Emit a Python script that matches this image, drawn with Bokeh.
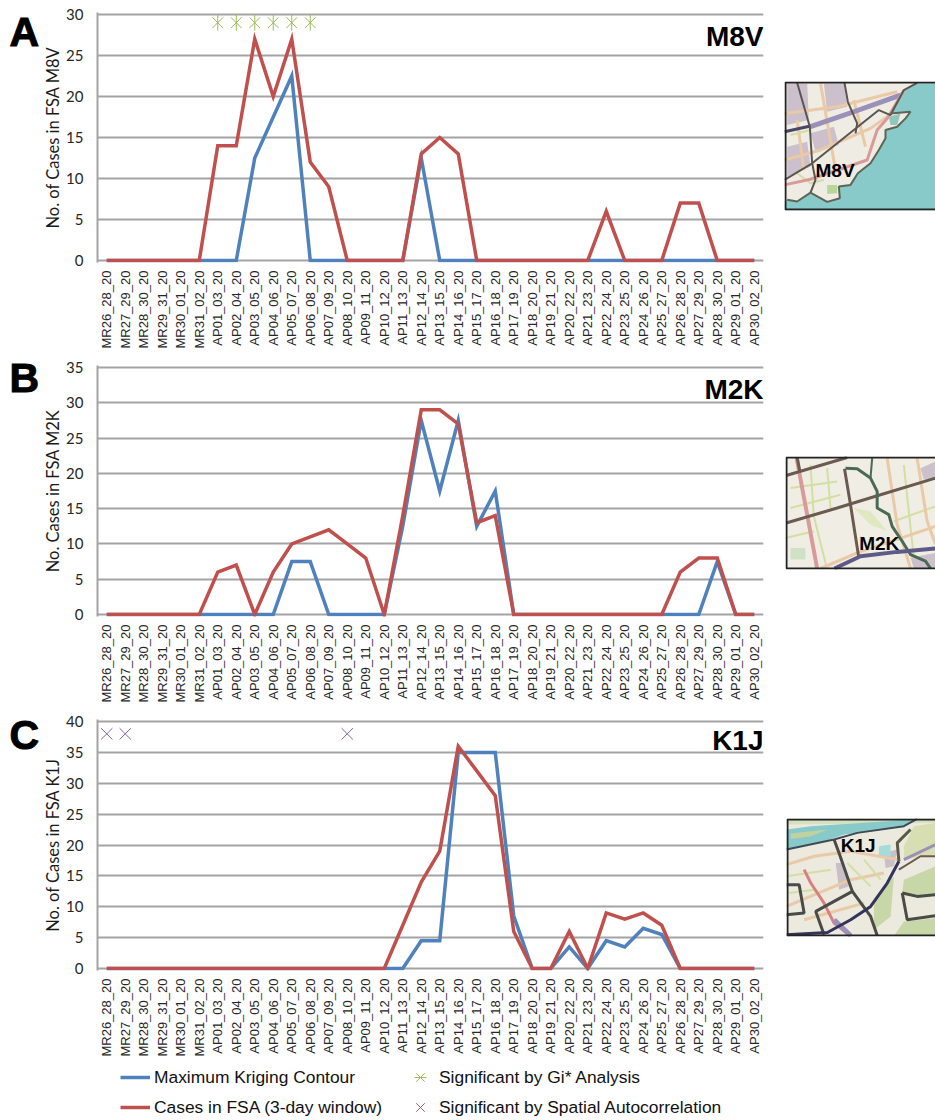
from bokeh.plotting import figure
from bokeh.layouts import column, row
from bokeh.models import (Range1d, FactorRange, Label, FixedTicker, Legend, LegendItem)
from bokeh.core.properties import value
from bokeh.embed import file_html
from bokeh.resources import INLINE
import math

windows = ["MR26_28_20","MR27_29_20","MR28_30_20","MR29_31_20","MR30_01_20","MR31_02_20",
 "AP01_03_20","AP02_04_20","AP03_05_20","AP04_06_20","AP05_07_20","AP06_08_20","AP07_09_20",
 "AP08_10_20","AP09_11_20","AP10_12_20","AP11_13_20","AP12_14_20","AP13_15_20","AP14_16_20",
 "AP15_17_20","AP16_18_20","AP17_19_20","AP18_20_20","AP19_21_20","AP20_22_20","AP21_23_20",
 "AP22_24_20","AP23_25_20","AP24_26_20","AP25_27_20","AP26_28_20","AP27_29_20","AP28_30_20",
 "AP29_01_20","AP30_02_20"]

m8v_cases   = [0,0,0,0,0,0,14,14,27,20,27,12,9,0,0,0,0,13,15,13,0,0,0,0,0,0,0,6,0,0,0,7,7,0,0,0]
m8v_kriging = [0,0,0,0,0,0,0,0,12.5,17.5,22.5,0,0,0,0,0,0,12.5,0,0,0,0,0,0,0,0,0,0,0,0,0,0,0,0,0,0]
m2k_cases   = [0,0,0,0,0,0,6,7,0,6,10,11,12,10,8,0,14,29,29,27,13,14,0,0,0,0,0,0,0,0,0,6,8,8,0,0]
m2k_kriging = [0,0,0,0,0,0,0,0,0,0,7.5,7.5,0,0,0,0,12.5,27.5,17.5,27.5,12.5,17.5,0,0,0,0,0,0,0,0,0,0,0,7.5,0,0]
k1j_cases   = [0,0,0,0,0,0,0,0,0,0,0,0,0,0,0,0,7,14,19,36,32,28,6,0,0,6,0,9,8,9,7,0,0,0,0,0]
k1j_kriging = [0,0,0,0,0,0,0,0,0,0,0,0,0,0,0,0,0,4.5,4.5,35,35,35,8.5,0,0,3.5,0,4.5,3.5,6.5,5.5,0,0,0,0,0]

m8v_gi_x = ["AP01_03_20","AP02_04_20","AP03_05_20","AP04_06_20","AP05_07_20","AP06_08_20"]
m8v_gi_y = [29,29,29,29,29,29]
k1j_sa_x = ["MR26_28_20","MR27_29_20","AP08_10_20"]
k1j_sa_y = [38,38,38]

BLUE, RED, GRID, GREEN, PURPLE = "#4f81bd", "#c0504d", "#a3a3a3", "#9bbb59", "#8064a2"
PAD = 2
LETTER_W = 40
LINE_W = 3.5

def chart(code, code_y, ylabel, ymax, cases, kriging, height, bottom):
    plot_h = 246
    unit = ymax / plot_h
    p = figure(width=784 - LETTER_W, height=height, x_range=FactorRange(factors=windows),
               y_range=Range1d(-PAD * unit, ymax + PAD * unit),
               output_backend="svg", toolbar_location=None, frame_align=False,
               min_border_left=97 - LETTER_W, min_border_right=21, min_border_top=12, min_border_bottom=bottom)
    p.outline_line_color = None
    p.background_fill_color = None
    p.border_fill_color = None
    p.xgrid.grid_line_color = None
    p.ygrid.grid_line_color = GRID
    p.ygrid.grid_line_width = 2
    p.yaxis.ticker = FixedTicker(ticks=list(range(0, ymax + 1, 5)))
    p.yaxis.axis_label = ylabel
    p.yaxis.axis_label_text_font = "Lato"
    p.yaxis.axis_label_text_font_style = "normal"
    p.yaxis.axis_label_text_font_size = "16.5px"
    p.yaxis.axis_label_text_color = "#1a1a1a"
    p.yaxis.axis_label_standoff = 0
    p.yaxis.major_label_text_font = "Lato"
    p.yaxis.major_label_text_font_size = "15px"
    p.yaxis.major_label_text_color = "#262626"
    p.yaxis.major_label_standoff = 14
    p.yaxis.major_tick_line_color = None
    p.yaxis.major_tick_out = 0
    p.yaxis.major_tick_in = 0
    p.yaxis.minor_tick_line_color = None
    p.yaxis.axis_line_color = GRID
    p.yaxis.axis_line_width = 2
    p.xaxis.axis_line_color = None
    p.xaxis.major_tick_line_color = None
    p.xaxis.major_tick_out = 0
    p.xaxis.major_tick_in = 0
    p.xaxis.minor_tick_line_color = None
    p.xaxis.major_label_orientation = math.pi / 2
    p.xaxis.major_label_text_font = "Liberation Sans"
    p.xaxis.major_label_text_font_size = "13px"
    p.xaxis.major_label_text_color = "#262626"
    p.xaxis.major_label_standoff = 8
    p.line(windows, kriging, line_color=BLUE, line_width=LINE_W, line_join="miter")
    p.line(windows, cases, line_color=RED, line_width=LINE_W, line_join="miter")
    p.add_layout(Label(x=763 - LETTER_W, y=code_y, x_units="canvas", y_units="canvas", text=code,
                       text_font="Liberation Sans", text_font_style="bold", text_font_size="28px",
                       text_color="black", text_align="right", text_baseline="alphabetic"))
    return p

pa = chart("M8V", 36, "No. of Cases in FSA M8V", 30, m8v_cases, m8v_kriging, 353, 91)
pb = chart("M2K", 36, "No. Cases in FSA M2K", 35, m2k_cases, m2k_kriging, 354, 91)
pc = chart("K1J", 33, "No. of Cases in FSA K1J", 40, k1j_cases, k1j_kriging, 354, 91)

pa.scatter(m8v_gi_x, m8v_gi_y, marker="x", size=15, line_color=GREEN, line_width=1)
pa.scatter(m8v_gi_x, m8v_gi_y, marker="dash", angle=math.pi / 2, size=16, line_color=GREEN, line_width=1)
pc.scatter(k1j_sa_x, k1j_sa_y, marker="x", size=16, line_color=PURPLE, line_width=1)


def letter_panel(letter, y, height):
    f = figure(width=LETTER_W, height=height, x_range=Range1d(0, LETTER_W), y_range=Range1d(height, 0),
               output_backend="svg", toolbar_location=None, min_border=0, frame_align=False)
    f.axis.visible = False
    f.grid.visible = False
    f.outline_line_color = None
    f.border_fill_color = None
    f.text([9], [y], text=[letter], text_font=value("Liberation Sans"), text_font_style="bold",
           text_font_size="41px", text_color="black", text_baseline="alphabetic",
           text_outline_color="black")
    return f

la, lb, lc = letter_panel("A", 31, 353), letter_panel("B", 24, 354), letter_panel("C", 27, 354)

# legend strip under the charts; its helper marks lie outside the strip, only their legend swatches show
lf = figure(width=935, height=59, x_range=Range1d(0, 935), y_range=Range1d(0, 59),
            output_backend="svg", toolbar_location=None, min_border=0, frame_align=False)
lf.axis.visible = False
lf.grid.visible = False
lf.outline_line_color = None
lf.border_fill_color = None
off_x, off_y = [-50, -40], [-50, -50]
kr = lf.line(off_x, off_y, line_color=BLUE, line_width=LINE_W)
cr = lf.line(off_x, off_y, line_color=RED, line_width=LINE_W)
g1 = lf.scatter(off_x, off_y, marker="x", size=16, line_color=GREEN, line_width=1)
g2 = lf.scatter(off_x, off_y, marker="dash", angle=math.pi / 2, size=17, line_color=GREEN, line_width=1)
sa = lf.scatter(off_x, off_y, marker="x", size=16, line_color=PURPLE, line_width=1)

def legend(label, renderers, x, y):
    lf.add_layout(Legend(items=[LegendItem(label=label, renderers=renderers)], location=(x, y),
                border_line_color=None, background_fill_alpha=0, margin=0, padding=0,
                glyph_width=30, glyph_height=38, label_standoff=4, label_height=22,
                label_text_font="Liberation Sans", label_text_font_size="17.4px",
                label_text_color="#111111", label_text_baseline="middle"))

legend("Maximum Kriging Contour", [kr], 120, 24)
legend("Cases in FSA (3-day window)", [cr], 120, -6)
legend("Significant by Gi* Analysis", [g1, g2], 405, 24)
legend("Significant by Spatial Autocorrelation", [sa], 405, -6)

LAND_A, WATER = "#efece3", "#88caca"
TAN, GRN, PINK, FSA = "#e9c9a6", "#d3dfa2", "#d99a9a", "#5a5550"

map_a_patches = [
 (LAND_A, [(42,34),(495,34),(495,422),(42,422)]),
 ("#cbc0cc", [(50,40),(110,40),(115,150),(50,165)]),
 ("#cbc0cc", [(120,190),(190,170),(205,225),(135,245)]),
 ("#cbc0cc", [(160,40),(220,40),(230,110),(170,125)]),
 ("#cbc0cc", [(50,230),(110,215),(120,290),(50,320)]),
 (WATER, [(495,40),(440,40),(400,62),(375,100),(360,130),(420,125),(405,145),(380,170),(345,180),(345,205),(325,240),(300,280),(262,310),(240,345),(205,350),(208,385),(170,396),(120,368),(80,395),(50,390),(42,395),(42,422),(495,422)]),
 ("#b7d79a", [(170,345),(200,345),(200,370),(170,372)]),
 ("#8fc7bd", [(355,140),(390,130),(380,165),(360,165)]),
]
map_a_lines = [
 (TAN, 3, [(42,130),(200,110),(380,65)]),
 (TAN, 3, [(42,270),(150,240),(300,175),(350,140)]),
 (TAN, 3, [(150,40),(195,300)]),
 (TAN, 3, [(80,150),(100,300)]),
 (TAN, 3, [(250,90),(285,230)]),
 (GRN, 2, [(60,195),(120,180)]),
 (GRN, 2, [(80,310),(120,340),(160,330)]),
 ("#9a90b8", 5, [(120,170),(250,125),(390,75)]),
 (PINK, 3, [(42,345),(120,328),(290,270),(320,180),(350,145),(400,60)]),
 ("#4a4466", 3, [(42,185),(120,168)]),
 (FSA, 2, [(80,38),(118,170),(125,280),(135,330),(120,368)]),
 (FSA, 2, [(222,38),(232,95),(260,160),(255,190)]),
 (FSA, 2, [(42,330),(125,280),(325,120),(360,135),(400,60),(440,38)]),
 ("#5d6458", 2, [(360,130),(420,125),(405,145),(380,170),(345,180),(345,205),(325,240),(300,280),(262,310),(240,345),(205,350),(208,385),(170,396),(120,368),(80,395),(50,390)]),
]
map_b_patches = [
 ("#f0eee4", [(45,35),(495,35),(495,375),(45,375)]),
 ("#cfe2c8", [(60,310),(105,310),(105,345),(60,345)]),
 ("#dfe8c0", [(250,190),(300,200),(350,260),(300,240)]),
 ("#cbc0cc", [(450,70),(495,50),(495,100),(460,105)]),
 ("#cbc0cc", [(420,340),(495,325),(495,372),(430,372)]),
]
map_b_lines = [
 (GRN, 2, [(120,60),(130,215),(170,375)]),
 (GRN, 2, [(60,130),(200,110)]),
 (GRN, 2, [(60,190),(210,150)]),
 (GRN, 2, [(170,70),(180,190)]),
 (GRN, 2, [(400,60),(430,340)]),
 (GRN, 2, [(370,230),(495,185)]),
 (GRN, 2, [(45,280),(130,260)]),
 (TAN, 3, [(350,40),(380,240),(420,372)]),
 (TAN, 3, [(440,40),(470,230),(495,300)]),
 (TAN, 3, [(150,372),(260,325),(495,245)]),
 (PINK, 4, [(78,38),(140,372)]),
 ("#6b5a50", 3, [(47,92),(230,38)]),
 ("#6b5a50", 3, [(47,235),(200,190),(330,150),(495,100)]),
 ("#6b5a50", 3, [(80,38),(88,80)]),
 ("#6b5a50", 3, [(222,72),(240,180),(265,340)]),
 ("#4a6a55", 3, [(225,70),(260,72),(300,100),(320,140),(320,190),(355,210),(365,245),(395,290),(420,330),(465,350),(480,372)]),
 ("#4a6a55", 2, [(300,100),(305,40)]),
 ("#5e5a88", 4, [(192,372),(270,335),(380,322),(495,312)]),
]
map_c_patches = [
 ("#ece9df", [(47,27),(495,27),(495,380),(47,380)]),
 ("#d5e0bf", [(47,27),(495,27),(495,40),(47,45)]),
 (WATER, [(47,60),(120,50),(430,30),(400,52),(340,60),(220,75),(170,92),(47,120)]),
 ("#c0d2a0", [(60,72),(170,60),(120,80),(60,88)]),
 ("#d7dfb2", [(430,50),(495,40),(495,135),(400,150),(400,110)]),
 ("#c8d7a8", [(400,210),(495,170),(495,255),(440,260),(395,250)]),
 ("#c8d7a8", [(310,270),(370,200),(360,320),(310,360)]),
 ("#c8d7a8", [(400,335),(495,325),(495,378),(370,378)]),
 ("#c9bfc9", [(195,160),(220,160),(235,230),(205,240)]),
 ("#c9bfc9", [(340,130),(380,120),(370,170),(345,175)]),
 ("#a6dcd8", [(325,110),(360,105),(360,140),(325,145)]),
]
map_c_lines = [
 (TAN, 3, [(47,165),(130,140),(240,125),(380,150)]),
 (TAN, 3, [(47,290),(240,210),(340,190)]),
 (TAN, 3, [(100,330),(280,280)]),
 (GRN, 2, [(47,200),(180,180)]),
 (GRN, 2, [(55,250),(130,240)]),
 (GRN, 2, [(230,160),(300,230)]),
 (GRN, 2, [(280,150),(330,210)]),
 ("#d88080", 3, [(100,180),(120,220),(160,280),(190,340),(240,378)]),
 ("#9a90b8", 3, [(400,150),(495,105)]),
 ("#9a90b8", 5, [(190,330),(240,378)]),
 ("#3f4a55", 2, [(47,120),(190,90),(260,70),(400,50),(440,28)]),
 ("#4a4a46", 3, [(190,90),(205,130),(245,245),(135,305),(160,375)]),
 ("#4a4a46", 3, [(245,245),(300,320),(320,378)]),
 ("#4a4a46", 3, [(47,225),(85,225),(100,310),(47,315)]),
 ("#4a4a46", 3, [(395,250),(440,260),(495,255)]),
 ("#4a4a46", 3, [(395,250),(410,330),(495,318)]),
 ("#5a5a46", 3, [(385,155),(380,100),(420,60)]),
 ("#6b5a50", 2, [(385,180),(450,140),(495,140)]),
 ("#34345a", 3, [(47,375),(170,368),(240,330),(300,290),(350,220),(385,155)]),
]

def inset(x0, x1, y0, y1, patches, lines, name, nx, ny, fs, top, left, total_h):
    w, h = round((x1 - x0) / 3), round((y1 - y0) / 3)
    m = figure(width=w + left, height=total_h, x_range=Range1d(x0, x1), y_range=Range1d(y1, y0),
               output_backend="svg", toolbar_location=None, min_border_left=left, min_border_right=0,
               frame_align=False, min_border_top=top, min_border_bottom=total_h - top - h)
    m.axis.visible = False
    m.grid.visible = False
    m.outline_line_color = None
    m.border_fill_color = None
    for col, pts in patches:
        m.patch([q[0] for q in pts], [q[1] for q in pts], fill_color=col, line_color=None)
    for col, wd, pts in lines:
        m.line([q[0] for q in pts], [q[1] for q in pts], line_color=col, line_width=wd)
    m.line([x1, x0 + 3, x0 + 3, x1], [y0 + 3, y0 + 3, y1 - 3, y1 - 3], line_color="#222222", line_width=2)
    m.text([nx], [ny], text=[name], text_font_size=fs, text_font=value("Liberation Sans"),
           text_font_style="bold", text_color="black", text_baseline="middle", text_align="left")
    return m

ma = inset(42, 495, 34, 422, map_a_patches, map_a_lines, "M8V", 135, 302, "19px", 81, 0, 353)
mb = inset(45, 495, 35, 375, map_b_patches, map_b_lines, "M2K", 266, 297, "19px", 103, 1, 354)
mc = inset(47, 495, 27, 380, map_c_patches, map_c_lines, "K1J", 210, 108, "19px", 111, 2, 354)

page = column(row(la, pa, ma, spacing=0), row(lb, pb, mb, spacing=0), row(lc, pc, mc, spacing=0), lf, spacing=0)
open("out.html", "w").write(file_html(page, INLINE))
